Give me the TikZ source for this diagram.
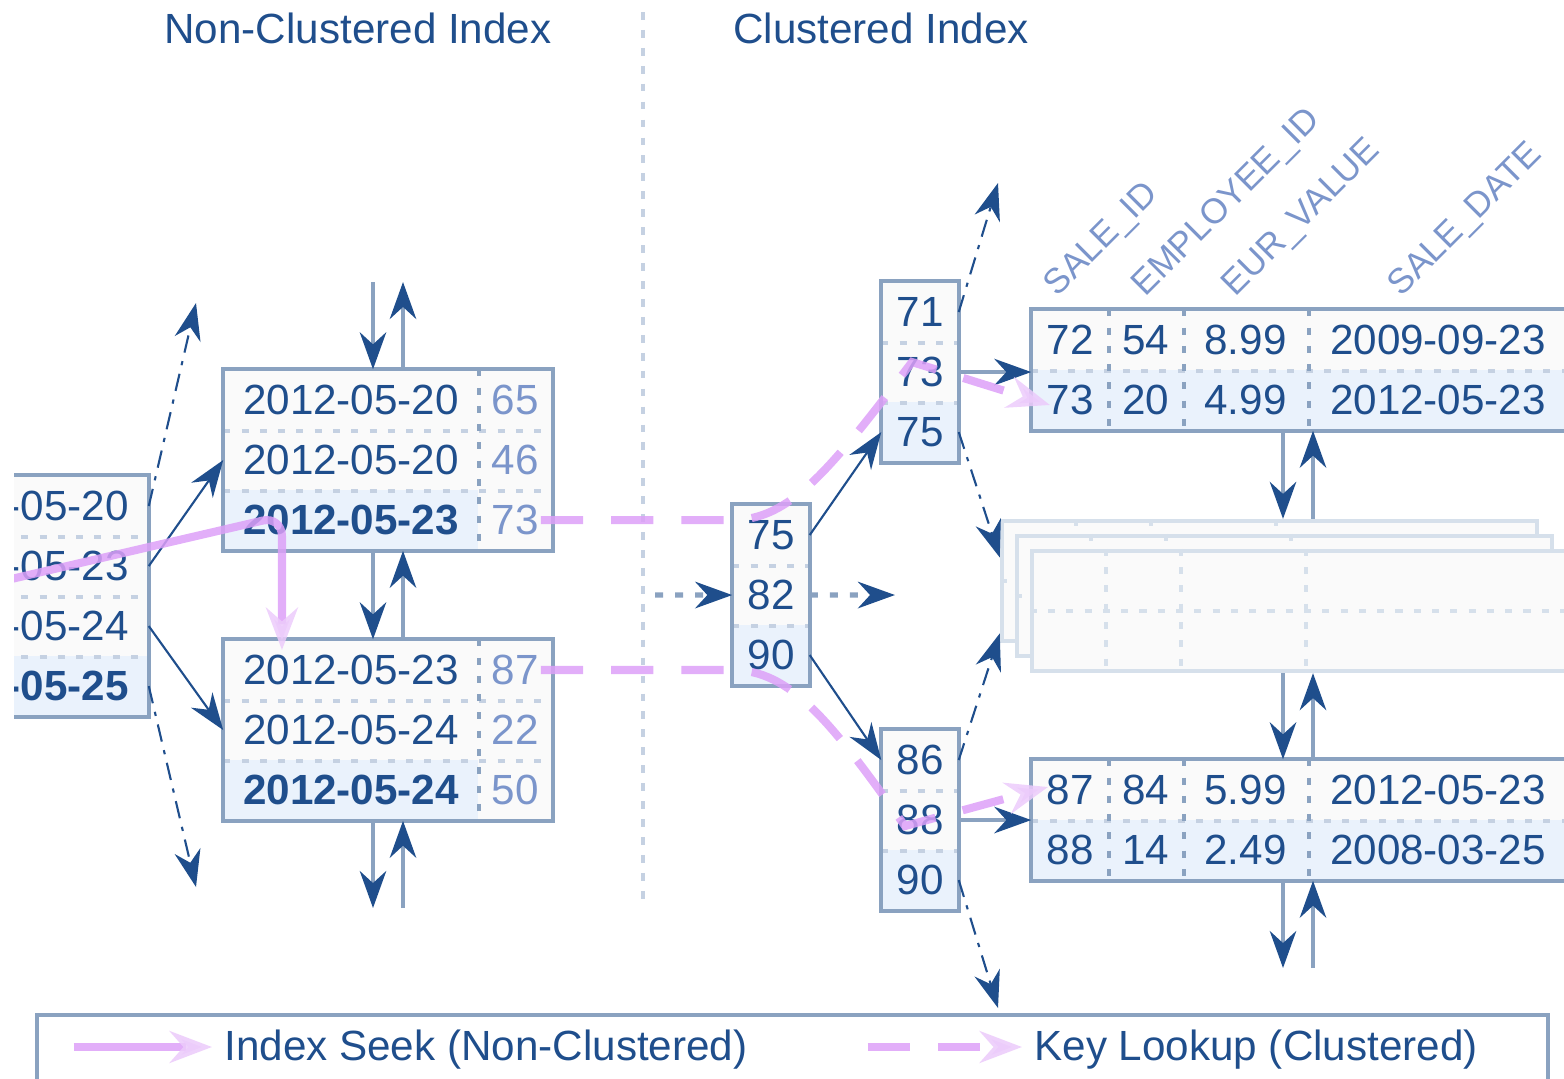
\documentclass[tikz,border=0pt]{standalone}
\usepackage{fontspec}
\setmainfont{Liberation Sans}
\usetikzlibrary{arrows.meta}

\definecolor{ink}{HTML}{1F4E8C}
\definecolor{frame}{HTML}{8AA2C0}
\definecolor{sep}{HTML}{C5D1E2}
\definecolor{soft}{HTML}{7B95CB}
\definecolor{hotrow}{HTML}{EAF2FC}
\definecolor{pagebg}{HTML}{FAFAFA}
\definecolor{ghostline}{HTML}{D6E0EB}
\definecolor{seekpink}{HTML}{DDA0F8}

\begin{document}
\begin{tikzpicture}[x=0.01cm,y=-0.01cm,node distance=0.6cm,
                    >={Stealth[length=10.5pt,width=7.5pt]}]
  \tikzstyle{every node}=[font=\fontsize{12}{14}\selectfont]
  \tikzstyle{cell}=[fill=pagebg,text=ink,inner sep=0pt,minimum height=0.6cm]
  \tikzstyle{hot}=[fill=hotrow]
  \tikzstyle{keycell}=[minimum width=2.54cm]
  \tikzstyle{valcell}=[minimum width=0.74cm,text=soft]
  \tikzstyle{idxcell}=[minimum width=0.76cm]
  \tikzstyle{pagebox}=[draw=frame,line width=1.2pt]
  \tikzstyle{rowsep}=[draw=sep,line width=1.1pt,dash pattern=on 2pt off 3.2pt]
  \tikzstyle{colsep}=[draw=frame,line width=1.1pt,dash pattern=on 2pt off 3.2pt]
  \tikzstyle{link}=[draw=ink,line width=.6pt,->]
  \tikzstyle{offpage}=[link,dash pattern=on 5pt off 2.5pt on 1.2pt off 2.5pt]
  \tikzstyle{shaft}=[draw=frame,line width=1.2pt,-{Stealth[length=10.5pt,width=7.5pt,color=ink]}]
  \tikzstyle{hop}=[shaft,line width=1.5pt,dash pattern=on 2.3pt off 3.4pt]
  \tikzstyle{seek}=[draw=seekpink,line width=2.3pt,opacity=.85,
                    -{Stealth[length=12pt,width=9pt,color=seekpink!55]}]
  \tikzstyle{lookup}=[seek,dash pattern=on 12pt off 8pt]
  \tikzstyle{ghost}=[draw=ghostline,fill=pagebg,line width=1.2pt,
                     minimum width=5.35cm,minimum height=1.2cm]
  \tikzstyle{ghostsep}=[draw=ghostline,line width=1.1pt,dash pattern=on 2pt off 3.2pt]
  \tikzstyle{colhead}=[text=soft,font=\fontsize{10}{12}\selectfont,rotate=45,
                       anchor=base west,inner sep=0pt]

  \useasboundingbox (0,0) rectangle (1564,1078);
  \clip (14,0) rectangle (1564,1078);

  % headings and the split line
  \node[text=ink] (nchead) at (358,28) {Non-Clustered Index};
  \node[text=ink] (chead) at (881,28) {Clustered Index};
  \draw[draw=sep,line width=1.4pt,dash pattern=on 2.2pt off 2.9pt] (643,12) -- (643,900);

  % stacked data pages in the middle
  \foreach \g/\x/\y in {g1/1269.5/581, g2/1284.5/596, g3/1299.5/611} {
    \node[ghost] (\g) at (\x,\y) {};
    \draw[ghostsep] (\g.west) -- (\g.east);
    \foreach \s in {.76,1.51,2.76}
      \draw[ghostsep] ([xshift=\s cm]\g.north west) -- ([xshift=\s cm]\g.south west);
  }

  % non-clustered index pages
  \node[cell,keycell] (l1) at (21,506) {2012-05-20};
  \node[cell,keycell] (l2) [below of=l1] {2012-05-23};
  \node[cell,keycell] (l3) [below of=l2] {2012-05-24};
  \node[cell,keycell,hot] (l4) [below of=l3] {\textbf{2012-05-25}};

  \node[cell,keycell] (a1) at (351,400) {2012-05-20};
  \node[cell,keycell] (a2) [below of=a1] {2012-05-20};
  \node[cell,keycell,hot] (a3) [below of=a2] {\textbf{2012-05-23}};
  \node[cell,valcell,node distance=1.64cm] (av1) [right of=a1] {65};
  \node[cell,valcell] (av2) [below of=av1] {46};
  \node[cell,valcell] (av3) [below of=av2] {73};

  \node[cell,keycell] (b1) at (351,670) {2012-05-23};
  \node[cell,keycell] (b2) [below of=b1] {2012-05-24};
  \node[cell,keycell,hot] (b3) [below of=b2] {\textbf{2012-05-24}};
  \node[cell,valcell,node distance=1.64cm] (bv1) [right of=b1] {87};
  \node[cell,valcell] (bv2) [below of=bv1] {22};
  \node[cell,valcell] (bv3) [below of=bv2] {50};

  % clustered index pages
  \node[cell,idxcell] (r1) at (771,535) {75};
  \node[cell,idxcell] (r2) [below of=r1] {82};
  \node[cell,idxcell,hot] (r3) [below of=r2] {90};

  \node[cell,idxcell] (c1) at (920,312) {71};
  \node[cell,idxcell] (c2) [below of=c1] {73};
  \node[cell,idxcell,hot] (c3) [below of=c2] {75};

  \node[cell,idxcell] (d1) at (920,760) {86};
  \node[cell,idxcell] (d2) [below of=d1] {88};
  \node[cell,idxcell,hot] (d3) [below of=d2] {90};

  % table rows
  \foreach \rw/\yy/\bg/\sid/\eid/\eur/\day in {t1/340/pagebg/72/54/8.99/2009-09-23,
      t2/400/hotrow/73/20/4.99/2012-05-23, u1/790/pagebg/87/84/5.99/2012-05-23,
      u2/850/hotrow/88/14/2.49/2008-03-25} {
    \node[cell,fill=\bg,minimum width=.76cm] (\rw1) at (1070,\yy) {\sid};
    \node[cell,fill=\bg,minimum width=.75cm] (\rw2) at (1145.5,\yy) {\eid};
    \node[cell,fill=\bg,minimum width=1.25cm] (\rw3) at (1245.5,\yy) {\eur};
    \node[cell,fill=\bg,minimum width=2.6cm] (\rw4) at (1438,\yy) {\day};
  }

  % page frames and separators
  \foreach \i in {1,2,3} \draw[rowsep] (l\i.south west) -- (l\i.south east);
  \draw[pagebox] (l1.north west) rectangle (l4.south east);
  \foreach \p in {a,b} {
    \draw[rowsep] (\p1.south west) -- (\p v1.south east);
    \draw[rowsep] (\p2.south west) -- (\p v2.south east);
    \draw[colsep] (\p1.north east) -- (\p3.south east);
    \draw[pagebox] (\p1.north west) rectangle (\p v3.south east);
  }
  \foreach \p in {r,c,d} {
    \draw[rowsep] (\p1.south west) -- (\p1.south east);
    \draw[rowsep] (\p2.south west) -- (\p2.south east);
    \draw[pagebox] (\p1.north west) rectangle (\p3.south east);
  }
  \foreach \tb in {t,u} {
    \draw[rowsep] (\tb11.south west) -- (\tb14.south east);
    \foreach \i in {1,2,3} \draw[colsep] (\tb1\i.north east) -- (\tb2\i.south east);
    \draw[pagebox] (\tb11.north west) rectangle (\tb24.south east);
  }

  % page chains
  \coordinate (ndn) at (373,282);
  \coordinate (nup) at (403,282);
  \coordinate (nend) at (0,908);
  \draw[shaft] (ndn) -- (ndn |- a1.north);
  \draw[shaft] (nup |- a1.north) -- (nup);
  \draw[shaft] (ndn |- a3.south) -- (ndn |- b1.north);
  \draw[shaft] (nup |- b1.north) -- (nup |- a3.south);
  \draw[shaft] (ndn |- b3.south) -- (ndn |- nend);
  \draw[shaft] (nup |- nend) -- (nup |- b3.south);

  \coordinate (ddn) at (1283,0);
  \coordinate (dup) at (1313,0);
  \coordinate (dend) at (0,968);
  \draw[shaft] (ddn |- t21.south) -- (ddn |- g1.north);
  \draw[shaft] (dup |- g1.north) -- (dup |- t21.south);
  \draw[shaft] (ddn |- g3.south) -- (ddn |- u11.north);
  \draw[shaft] (dup |- u11.north) -- (dup |- g3.south);
  \draw[shaft] (ddn |- u21.south) -- (ddn |- dend);
  \draw[shaft] (dup |- dend) -- (dup |- u21.south);

  % tree links
  \draw[link] (l2.east) -- (a2.west);
  \draw[link] (l3.east) -- (b2.west);
  \draw[link] (r1.east) -- (c3.west);
  \draw[link] (r3.east) -- (d1.west);
  \draw[shaft] (c2.east) -- (c2.east -| t11.west);
  \draw[shaft] (d2.east) -- (d2.east -| u11.west);

  \coordinate (lup) at (196,303);
  \coordinate (ldn) at (196,887);
  \coordinate (cup) at (998,183);
  \coordinate (cdn) at (998,1008);
  \draw[offpage] (l1.east) -- (lup);
  \draw[offpage] (l4.east) -- (ldn);
  \draw[offpage] (c1.east) -- (cup);
  \draw[offpage] (c3.east) -- (g1.175);
  \draw[offpage] (d1.east) -- (g1.191);
  \draw[offpage] (d3.east) -- (cdn);

  \coordinate (hin) at (655,595);
  \coordinate (hout) at (895,595);
  \draw[hop] (hin) -- (r2.west);
  \draw[hop] (r2.east) -- (hout);

  % column names
  \node[colhead] (h1) at (1057,298) {SALE\_ID};
  \node[colhead] (h2) at (1145,298) {EMPLOYEE\_ID};
  \node[colhead] (h3) at (1235,298) {EUR\_VALUE};
  \node[colhead] (h4) at (1401,298) {SALE\_DATE};

  % legend
  \draw[pagebox,fill=white] (37,1015) rectangle (1548,1100);
  \node[text=ink,anchor=base west] (seektxt) at (212,1060) {Index Seek (Non-Clustered)};
  \node[text=ink,anchor=base west] (looktxt) at (1022,1060) {Key Lookup (Clustered)};
  \draw[seek] ([xshift=-1.38cm,yshift=.13cm]seektxt.base west) -- ([yshift=.13cm]seektxt.base west);
  \draw[lookup] ([xshift=-1.54cm,yshift=.13cm]looktxt.base west) -- ([yshift=.13cm]looktxt.base west);

  % seek and lookup paths
  \coordinate (seekin) at (-79,600);
  \draw[seek,rounded corners=.2cm] (seekin) -- ([xshift=-.69cm,yshift=.04cm]a3.center)
    -- ([xshift=-.69cm,yshift=.2cm]b1.center);
  \draw[lookup] ([xshift=-.12cm]av3.east) -- (r1.west |- av3.east)
    .. controls (790,520) and (830,470) .. ([xshift=-.08cm,yshift=.1cm]c2.center)
    -- ([xshift=-.2cm,yshift=-.05cm]t21.center);
  \draw[lookup] ([xshift=-.12cm]bv1.east) -- (r3.west |- bv1.east)
    .. controls (790,670) and (830,720) .. ([xshift=-.15cm,yshift=-.06cm]d2.center)
    -- ([xshift=-.22cm,yshift=.03cm]u11.center);
\end{tikzpicture}
\end{document}
